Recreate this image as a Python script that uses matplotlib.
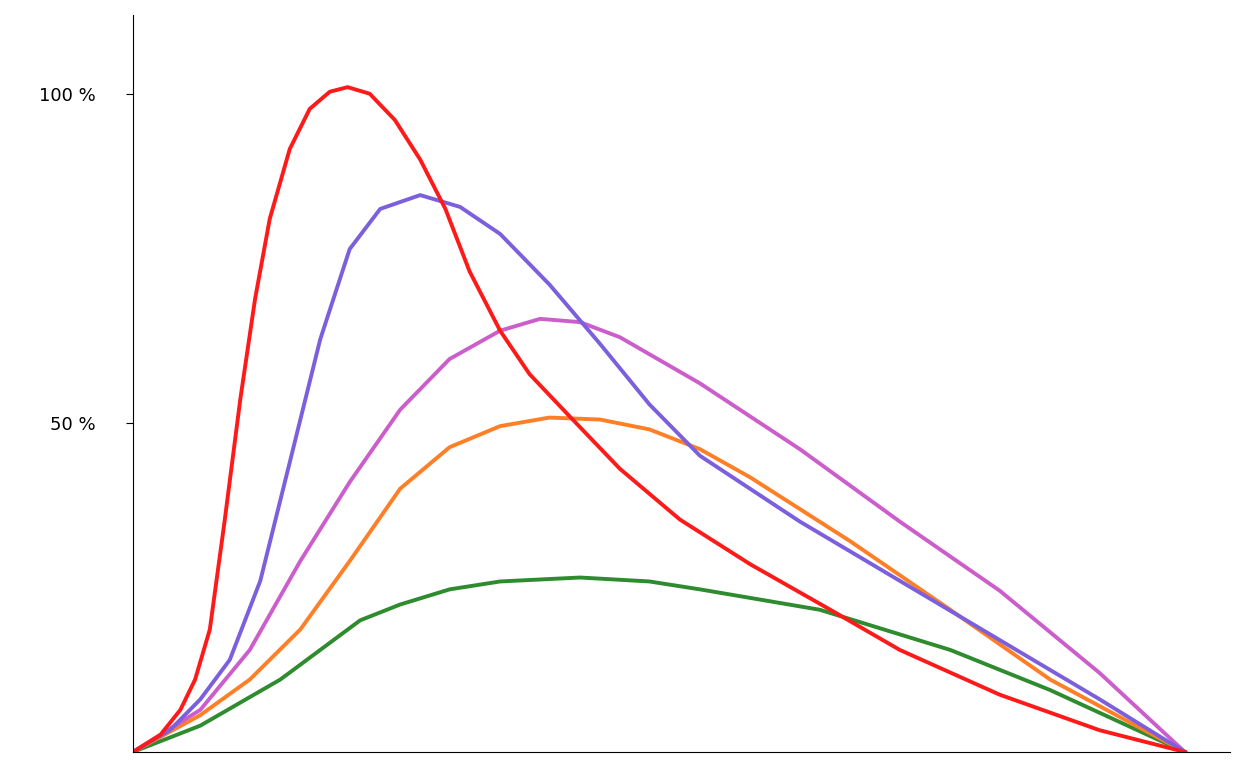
import matplotlib
matplotlib.use("Agg")
import matplotlib.pyplot as plt

# values (x: 0..100, y: percent)
red_x = [0, 2.6, 4.5, 5.9, 7.3, 8.7, 10.2, 11.6, 13, 14.9, 16.8, 18.7, 20.4, 22.5, 24.9, 27.3,
         29.7, 32, 34.9, 37.7, 41.5, 46.3, 52, 58.7, 66.3, 72.9, 82.4, 91.9, 100]
red_y = [0, 2.6, 6.4, 11, 18.6, 35, 53.6, 68.8, 81, 91.6, 97.7, 100.3, 101, 100, 96, 90,
         82.5, 73, 64, 57.4, 51, 43, 35.3, 28.5, 21.6, 15.5, 8.7, 3.3, 0]

purple_x = [0, 3.5, 6.4, 9.2, 12.1, 14.9, 17.8, 20.6, 23.5, 27.3, 31.1, 34.9, 39.6, 44.4, 49.1,
            53.9, 63.4, 72.9, 82.4, 91.9, 100]
purple_y = [0, 3.3, 8, 14, 26, 44, 62.7, 76.4, 82.5, 84.6, 82.8, 78.7, 71, 62, 52.8,
            45, 35, 26, 17, 8, 0]

magenta_x = [0, 6.4, 11.1, 15.9, 20.6, 25.4, 30.1, 34.9, 38.7, 42.5, 46.3, 53.9, 63.4, 72.9, 82.4, 91.9, 100]
magenta_y = [0, 6.4, 15.5, 29, 41, 52, 59.7, 64, 65.8, 65.3, 63, 56, 46, 35, 24.5, 12, 0]

orange_x = [0, 6.4, 11.1, 15.9, 20.6, 25.4, 30.1, 34.9, 39.6, 44.4, 49.1, 53.9, 58.7, 68.2, 77.7, 87.2, 100]
orange_y = [0, 5.6, 11, 18.6, 29, 40, 46.3, 49.5, 50.8, 50.5, 49, 46, 41.7, 32, 21.6, 11, 0]

green_x = [0, 6.4, 14, 21.6, 25.4, 30.1, 34.9, 42.5, 49.1, 53.9, 65.3, 77.7, 87.2, 100]
green_y = [0, 4, 11, 20, 22.4, 24.7, 25.9, 26.5, 25.9, 24.7, 21.6, 15.5, 9.4, 0]

fig = plt.figure(figsize=(12.48, 7.76), dpi=100)
ax = fig.add_axes([0.1066, 0.031, 0.879, 0.95])

ax.plot(green_x, green_y, color="#2e8b2e", lw=2.8, solid_joinstyle="round")
ax.plot(orange_x, orange_y, color="#ff7f27", lw=2.8, solid_joinstyle="round")
ax.plot(magenta_x, magenta_y, color="#cc5ecc", lw=2.8, solid_joinstyle="round")
ax.plot(purple_x, purple_y, color="#7b5fdc", lw=2.8, solid_joinstyle="round")
ax.plot(red_x, red_y, color="#ff1a1a", lw=2.8, solid_joinstyle="round")

ax.set_xlim(0, 104.3)
ax.set_ylim(0, 112)
ax.set_xticks([])
ax.set_yticks([50, 100])
ax.set_yticklabels(["50 %", "100 %"], fontsize=13)
ax.tick_params(axis="y", length=5, pad=22)
for s in ["top", "right"]:
    ax.spines[s].set_visible(False)

fig.savefig("out.png", dpi=100)
